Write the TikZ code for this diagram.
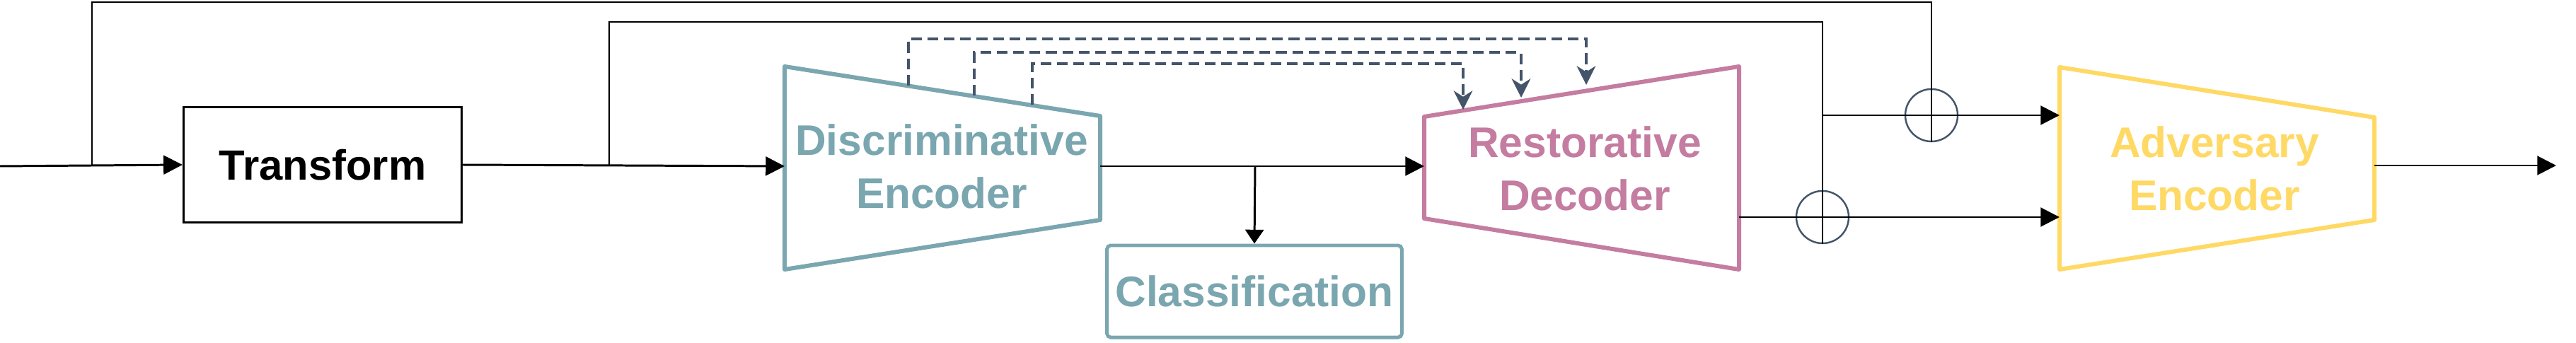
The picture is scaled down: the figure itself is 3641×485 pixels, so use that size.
\documentclass[tikz,border=0pt]{standalone}
\usepackage{fontspec}
\setmainfont{Liberation Sans}
\usetikzlibrary{arrows.meta}
\definecolor{encteal}{RGB}{122,166,176}
\definecolor{decpink}{RGB}{196,124,160}
\definecolor{advyellow}{RGB}{255,217,102}
\definecolor{slate}{RGB}{68,84,106}
\begin{document}
\begin{tikzpicture}[x=0.01cm, y=-0.01cm,
  main/.style={line width=0.85pt, draw=black},
  fb/.style={line width=0.7pt, draw=black},
  tip/.style={-{Triangle[length=7.6pt, width=7.6pt]}},
  skip/.style={line width=0.9pt, draw=slate, dash pattern=on 4.3pt off 2.3pt, -{Stealth[length=7.6pt, width=7.6pt, inset=2.4pt]}},
  blocktext/.style={font=\bfseries\fontsize{17.2}{21.3}\selectfont, align=center},
  sum/.style={shape=circle, draw=slate, line width=0.7pt, minimum size=0.74cm, inner sep=0pt},
  trap/.style={line width=1.7pt, line join=round}]
\useasboundingbox (0,0) rectangle (3641,485);
\node[draw=black, line width=0.85pt, minimum width=3.93cm, minimum height=1.62cm, blocktext, font=\bfseries\fontsize{17}{21}\selectfont] (tr) at (456,233) {Transform};
\node[draw=encteal, line width=1.4pt, rounded corners=1.5pt, minimum width=4.03cm, minimum height=1.30cm, blocktext, text=encteal] (cls) at (1773,412) {Classification};
\draw[trap, draw=encteal] (1109,94) -- (1555,164) -- (1555,311) -- (1109,381) -- cycle;
\draw[trap, draw=decpink] (2013,165) -- (2458,94) -- (2458,381) -- (2013,309) -- cycle;
\draw[trap, draw=advyellow] (2911,95) -- (3356,166) -- (3356,311) -- (2911,381) -- cycle;
\node[blocktext, text=encteal] (enc) at (1331,235) {Discriminative\\Encoder};
\node[blocktext, text=decpink] (dec) at (2240,238) {Restorative\\Decoder};
\node[blocktext, text=advyellow] (adv) at (3130,238) {Adversary\\Encoder};
\node[sum] (sumA) at (2730,163) {};
\node[sum] (sumB) at (2576,307) {};
\coordinate (in) at (0,235);
\coordinate (tapA) at (130,235);
\coordinate (tapB) at (861,235);
\coordinate (cornerA) at (2730,3);
\coordinate (cornerB) at (2576,31);
\coordinate (splitB) at (2576,163);
\coordinate (enc-in) at (1109,235);
\coordinate (enc-out) at (1555,235);
\coordinate (cls-tap) at (1774,235);
\coordinate (dec-in) at (2013,235);
\coordinate (dec-out) at (2458,307);
\coordinate (adv-inA) at (2911,163);
\coordinate (adv-inB) at (2911,307);
\coordinate (adv-out) at (3356,234);
\coordinate (out) at (3613,234);
\coordinate (enc-s1) at (1284,121);
\coordinate (enc-s2) at (1377,135);
\coordinate (enc-s3) at (1459,148);
\coordinate (dec-s1) at (2242,120);
\coordinate (dec-s2) at (2150,138);
\coordinate (dec-s3) at (2068,155);
\draw[main, tip] (in) -- (tr.west);
\draw[main, tip] (tr.east) -- (enc-in);
\draw[main, tip] (enc-out) -- (dec-in);
\draw[main, -{Triangle[length=5.6pt, width=7.4pt]}] (cls-tap) -- (cls.north);
\draw[main, tip] (splitB) -- (adv-inA);
\draw[main, tip] (dec-out) -- (adv-inB);
\draw[main, tip] (adv-out) -- (out);
\draw[fb] (tapA) |- (cornerA) -- (sumA.south);
\draw[fb] (tapB) |- (cornerB) -- (sumB.south);
\draw[skip] (enc-s1) -- ++(0,-66) -| (dec-s1);
\draw[skip] (enc-s2) -- ++(0,-61) -| (dec-s2);
\draw[skip] (enc-s3) -- ++(0,-58) -| (dec-s3);
\end{tikzpicture}
\end{document}
